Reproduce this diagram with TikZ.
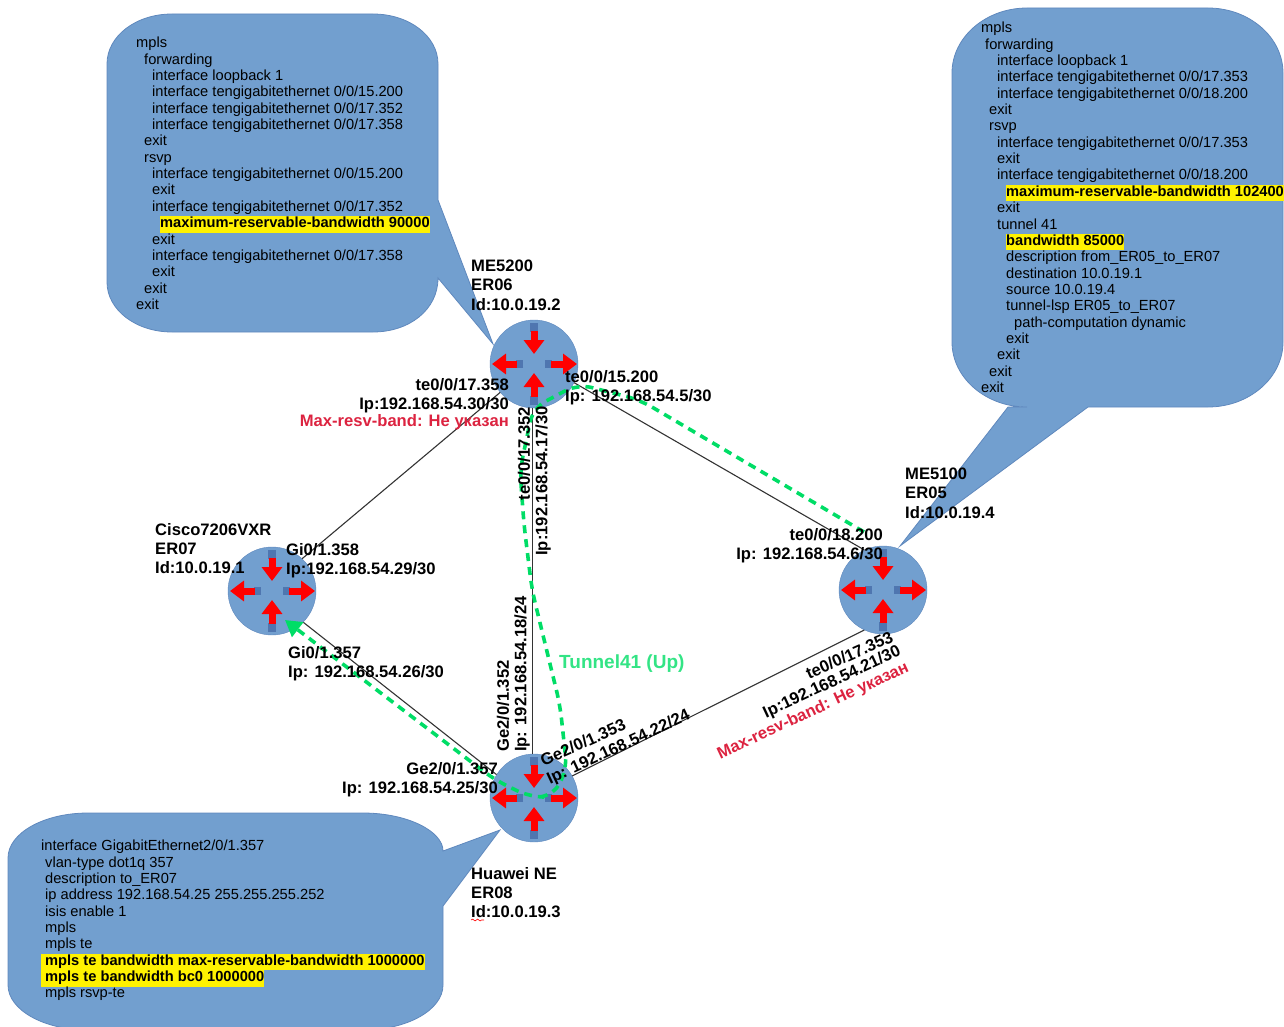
\documentclass[tikz,border=0pt]{standalone}
\usepackage{fontspec}
\setmainfont{Liberation Sans}
\usepackage{tikz}
\usetikzlibrary{positioning}
\usetikzlibrary{arrows.meta}
\usetikzlibrary{decorations.pathmorphing}

\definecolor{bubbleblue}{HTML}{729FCF}
\definecolor{bubbleedge}{HTML}{5F88BD}
\definecolor{basedark}{HTML}{4F76B0}
\definecolor{tunnelgreen}{HTML}{00DD66}
\definecolor{warnred}{HTML}{DC2340}

\newcommand{\hlbox}[1]{{\setlength{\fboxsep}{0pt}\colorbox{yellow}{\bfseries\strut #1}}}
\newcommand{\ind}[1]{\hspace*{#1pt}}

\begin{document}
\begin{tikzpicture}[
                          x=1pt, y=-1pt,
                          routernode/.style={circle, draw=bubbleedge, fill=bubbleblue, inner sep=0pt, minimum size=88pt, on grid},
                          bubble/.style={draw=bubbleedge, fill=bubbleblue, line width=0.8pt},
                          conftext/.style={align=left, anchor=north west, inner sep=0pt, font=\fontsize{14.65}{16.35}\selectfont},
                          portlabel/.style={align=left, inner sep=0pt, font=\fontsize{16.6}{19.2}\selectfont\bfseries},
                          warnlabel/.style={inner sep=0pt, text=warnred, font=\fontsize{16.6}{19.2}\selectfont\bfseries},
                          link/.style={draw=black!80, line width=1.1pt},
                          tunnel/.style={draw=tunnelgreen, line width=3.6pt, dash pattern=on 8pt off 6pt},
                          redarrow/.style={draw=red, line width=7pt, -{Triangle[width=20pt,length=14pt]}},
                          basemark/.style={draw=basedark, line width=8pt},
                      ]
                      \useasboundingbox (0,0) rectangle (1284,1027);

                      % Callouts
                      \coordinate (tip_er06) at (493,344);
                      \coordinate (tip_er05) at (900,546);
                      \coordinate (tip_er08) at (500,830);

                      \draw[bubble] (172,14) -- (373,14) .. controls (409,14) and (438,36) .. (438,64) -- (438,200) -- (tip_er06) -- (438,278)
                          .. controls (438,310) and (409,332) .. (373,332) -- (172,332) .. controls (136,332) and (107,310) .. (107,282)
                          -- (107,64) .. controls (107,36) and (136,14) .. (172,14) -- cycle;
                      \draw[bubble] (1027,8) -- (1208,8) .. controls (1249,8) and (1283,37) .. (1283,73) -- (1283,342)
                          .. controls (1283,378) and (1249,407) .. (1208,407) -- (1088,407) -- (tip_er05) -- (1008,407) -- (1027,407)
                          .. controls (986,407) and (952,378) .. (952,342) -- (952,73) .. controls (952,37) and (986,8) .. (1027,8) -- cycle;
                      \draw[bubble] (88,813) -- (363,813) .. controls (407,813) and (443,831) .. (443,851) -- (tip_er08) -- (443,906) -- (443,985)
                          .. controls (443,1010) and (407,1030) .. (363,1030) -- (88,1030) .. controls (44,1030) and (8,1010) .. (8,985)
                          -- (8,858) .. controls (8,833) and (44,813) .. (88,813) -- cycle;

                      % Nodes
                      \node[routernode]        (er06)    at (534,364)                         {};
                      \node[routernode]        (er07)    [below left=227pt and 262pt of er06]  {};
                      \node[routernode]        (er05)    [below right=226pt and 349pt of er06] {};
                      \node[routernode]        (er08)    [below=434pt of er06]                {};

                      \foreach \r in {er06,er07,er05,er08} {
                          \begin{scope}[shift={(\r)}]
                              \draw[basemark] (0,-41) -- (0,-32);
                              \draw[redarrow] (0,-33) -- (0,-10);
                              \draw[basemark] (0,41) -- (0,32);
                              \draw[redarrow] (0,33) -- (0,9);
                              \draw[basemark] (-11,0) -- (-18,0);
                              \draw[redarrow] (-17,0) -- (-42,0);
                              \draw[basemark] (11,0) -- (18,0);
                              \draw[redarrow] (17,0) -- (43,0);
                          \end{scope}
                      }

                      %Lines
                      \draw[link] (er06.220) -- (er07.47);
                      \draw[link] (er06.268) -- (er08.92);
                      \draw[link] (er06.-25) -- (er05.115);
                      \draw[link] (er07.-45) -- (er08.148);
                      \draw[link] (er08.30) -- (er05.-115);

                      %Tunnel
                      \coordinate (tunnel_start) at (864,532);
                      \coordinate (tunnel_end) at (285,620);
                      \draw[tunnel, rounded corners=14pt, -{Triangle[width=18pt,length=16pt,fill=tunnelgreen]}] (tunnel_start) -- (640,400) -- (578,384) -- (533,408) -- (520,470) -- (524,525)
                          -- (532,590) -- (560,705) -- (567,770) -- (552,797) -- (530,797) -- (495,780) -- (tunnel_end);

                      % Configs
                      \node[conftext] (conf_er06) at (136,37) {mpls\\
                          \ind{8}forwarding\\
                          \ind{16}interface loopback 1\\
                          \ind{16}interface tengigabitethernet 0/0/15.200\\
                          \ind{16}interface tengigabitethernet 0/0/17.352\\
                          \ind{16}interface tengigabitethernet 0/0/17.358\\
                          \ind{8}exit\\
                          \ind{8}rsvp\\
                          \ind{16}interface tengigabitethernet 0/0/15.200\\
                          \ind{16}exit\\
                          \ind{16}interface tengigabitethernet 0/0/17.352\\
                          \ind{24}\hlbox{maximum-reservable-bandwidth 90000}\\
                          \ind{16}exit\\
                          \ind{16}interface tengigabitethernet 0/0/17.358\\
                          \ind{16}exit\\
                          \ind{8}exit\\
                          exit};
                      \node[conftext] (conf_er05) at (981,22) {mpls\\
                          \ind{4}forwarding\\
                          \ind{16}interface loopback 1\\
                          \ind{16}interface tengigabitethernet 0/0/17.353\\
                          \ind{16}interface tengigabitethernet 0/0/18.200\\
                          \ind{8}exit\\
                          \ind{8}rsvp\\
                          \ind{16}interface tengigabitethernet 0/0/17.353\\
                          \ind{16}exit\\
                          \ind{16}interface tengigabitethernet 0/0/18.200\\
                          \ind{25}\hlbox{maximum-reservable-bandwidth 102400}\\
                          \ind{16}exit\\
                          \ind{16}tunnel 41\\
                          \ind{25}\hlbox{bandwidth 85000}\\
                          \ind{25}description from\_ER05\_to\_ER07\\
                          \ind{25}destination 10.0.19.1\\
                          \ind{25}source 10.0.19.4\\
                          \ind{25}tunnel-lsp ER05\_to\_ER07\\
                          \ind{33}path-computation dynamic\\
                          \ind{25}exit\\
                          \ind{16}exit\\
                          \ind{8}exit\\
                          exit};
                      \node[conftext] (conf_er08) at (41,840) {interface GigabitEthernet2/0/1.357\\
                          \ind{4}vlan-type dot1q 357\\
                          \ind{4}description to\_ER07\\
                          \ind{4}ip address 192.168.54.25 255.255.255.252\\
                          \ind{4}isis enable 1\\
                          \ind{4}mpls\\
                          \ind{4}mpls te\\
                          \hlbox{\ind{4}mpls te bandwidth max-reservable-bandwidth 1000000}\\
                          \hlbox{\ind{4}mpls te bandwidth bc0 1000000}\\
                          \ind{4}mpls rsvp-te};

                      % Router labels
                      \node[portlabel, anchor=north west] (name_er06) at (471,260) {ME5200\\ER06\\Id:10.0.19.2};
                      \node[portlabel, anchor=north west] (name_er05) at (905,468) {ME5100\\ER05\\Id:10.0.19.4};
                      \node[portlabel, anchor=north west] (name_er07) at (155,523) {Cisco7206VXR\\ER07\\Id:10.0.19.1};
                      \node[portlabel, anchor=north west] (name_er08) at (471,867) {Huawei NE\\ER08\\Id:10.0.19.3};
                      \draw[red, line width=0.6pt, decorate, decoration={snake, amplitude=0.9pt, segment length=5pt}] (471,920) -- (484,920);

                      % Port labels
                      \node[portlabel, anchor=north east, align=right] (port_er06_a) at (509,378) {te0/0/17.358\\Ip:192.168.54.30/30};
                      \node[warnlabel, anchor=east] (warn_er06) at (509,422) {Max-resv-band: Не указан};
                      \node[portlabel, anchor=north west] (port_er06_b) at (565,370) {te0/0/15.200\\Ip: 192.168.54.5/30};
                      \node[portlabel, anchor=north east, align=right] (port_er05_a) at (883,528) {te0/0/18.200\\Ip: 192.168.54.6/30};
                      \node[portlabel, anchor=north west] (port_er07_a) at (286,543) {Gi0/1.358\\Ip:192.168.54.29/30};
                      \node[portlabel, anchor=north west] (port_er07_b) at (288,646) {Gi0/1.357\\Ip: 192.168.54.26/30};
                      \node[portlabel, anchor=north east, align=right] (port_er08_a) at (498,762) {Ge2/0/1.357\\Ip: 192.168.54.25/30};
                      \node[portlabel, rotate=90, anchor=east] (port_er06_c) at (524,407) {te0/0/17.352};
                      \node[portlabel, rotate=90, anchor=east] (port_er06_d) at (543,406) {Ip:192.168.54.17/30};
                      \node[portlabel, rotate=90, anchor=west] (port_er08_b) at (503,752) {Ge2/0/1.352};
                      \node[portlabel, rotate=90, anchor=west] (port_er08_c) at (522,752) {Ip: 192.168.54.18/24};
                      \node[portlabel, rotate=24, anchor=west] (port_er08_d) at (541,761) {Ge2/0/1.353};
                      \node[portlabel, rotate=25, anchor=west] (port_er08_e) at (548,781) {Ip: 192.168.54.22/24};
                      \node[portlabel, rotate=24, anchor=east] (port_er05_b) at (892,636) {te0/0/17.353};
                      \node[portlabel, rotate=25, anchor=east] (port_er05_c) at (900,651) {Ip:192.168.54.21/30};
                      \node[warnlabel, rotate=25, anchor=east] (warn_er05) at (908,667) {Max-resv-band: Не указан};

                      \node[portlabel, font=\fontsize{19}{20}\selectfont\bfseries, text=tunnelgreen!80!white, anchor=west] (tunnel_label) at (559,664) {Tunnel41 (Up)};
                  \end{tikzpicture}
\end{document}
